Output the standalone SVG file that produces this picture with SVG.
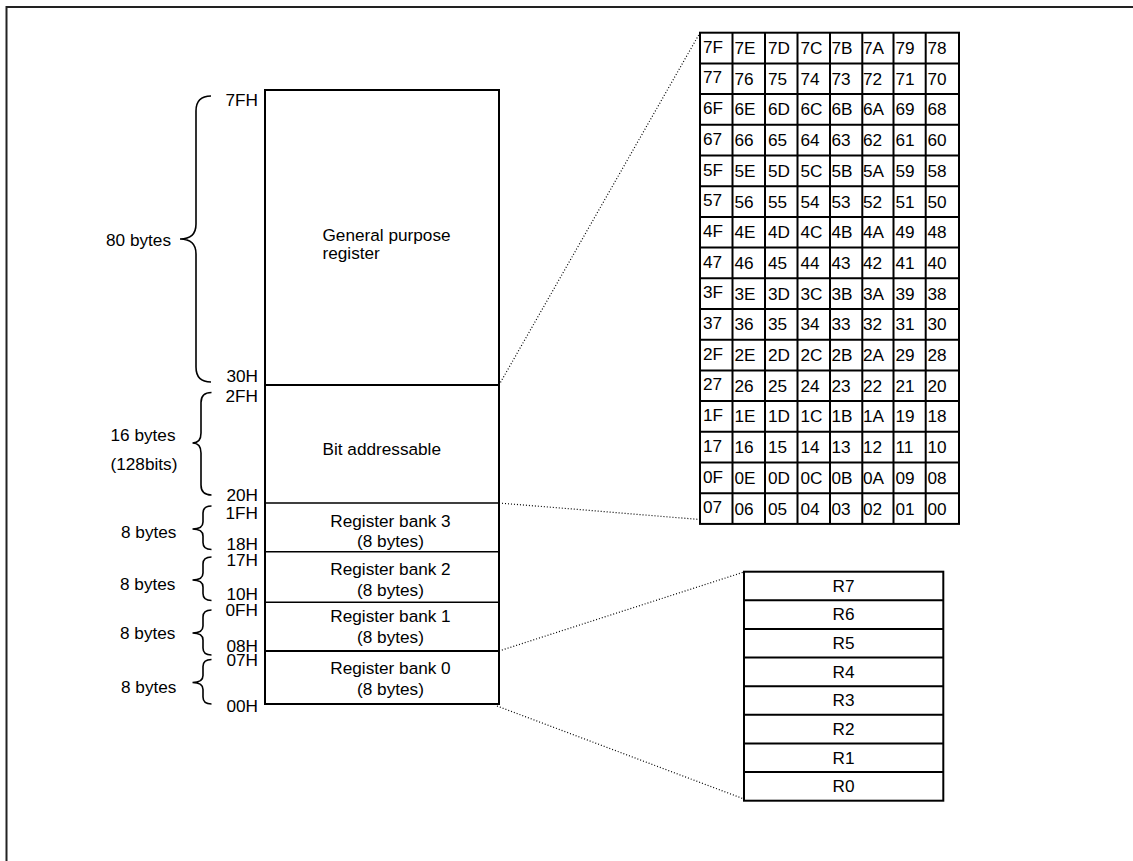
<svg xmlns="http://www.w3.org/2000/svg" width="1133" height="861" viewBox="0 0 1133 861">
<style>
.t{font-family:"Liberation Sans",Arial,sans-serif;font-size:17.2px;fill:#000}
.m{text-anchor:middle}
.e{text-anchor:end}
.box{fill:#fff;stroke:#000;stroke-width:2}
.ln{fill:none;stroke:#000;stroke-width:1.6}
.gl{fill:none;stroke:#000;stroke-width:2}
.br{fill:none;stroke:#000;stroke-width:1.6}
.dot{fill:none;stroke:#000;stroke-width:1.2;stroke-dasharray:1 2}
</style>
<rect width="1133" height="861" fill="#fff"/>
<path id="frame" d="M6.5 861V7H1133" fill="none" stroke="#222" stroke-width="2"/>

<g id="connectors">
<path class="dot" d="M499 385L700 32.7"/>
<path class="dot" d="M499 503L700 519.5"/>
<path class="dot" d="M499 651L744 572"/>
<path class="dot" d="M497 706L744 799"/>
</g>

<g id="memory-map">
<rect class="box" x="265" y="90" width="234" height="614"/>
<path class="gl" d="M265 385H499M265 651H499"/>
<path class="ln" d="M265 503H499M265 551.7H499M265 602.3H499"/>
</g>

<g id="general-purpose">
<path class="br" d="M211 96Q196 96 196 111L196 224Q196 239 180 239Q196 239 196 254L196 367Q196 382 211 382"/>
<text class="t" x="106" y="246">80 bytes</text>
<text class="t e" x="258" y="106">7FH</text>
<text class="t e" x="258" y="382">30H</text>
<text class="t" x="322.5" y="241">General purpose</text>
<text class="t" x="322.5" y="259">register</text>
</g>

<g id="bit-addressable">
<path class="br" d="M211.5 392.5Q201 392.5 201 402.5L201 433Q201 443 192.5 443Q201 443 201 453L201 485Q201 495 211.5 495"/>
<text class="t" x="110.5" y="440.5">16 bytes</text>
<text class="t" x="110.5" y="470">(128bits)</text>
<text class="t e" x="258" y="402">2FH</text>
<text class="t e" x="258" y="500.5">20H</text>
<text class="t" x="322.5" y="455">Bit addressable</text>
</g>

<g id="register-bank-3">
<path class="br" d="M211.5 506Q203 506 203 513L203 522Q203 529 192.5 529Q203 529 203 536L203 542.5Q203 549.5 211.5 549.5"/>
<text class="t" x="121" y="538">8 bytes</text>
<text class="t e" x="258" y="519">1FH</text>
<text class="t e" x="258" y="550">18H</text>
<text class="t m" x="390.5" y="526.7">Register bank 3</text>
<text class="t m" x="390.5" y="546.5">(8 bytes)</text>
</g>

<g id="register-bank-2">
<path class="br" d="M211.5 557Q203 557 203 564L203 573Q203 580 192.5 580Q203 580 203 587L203 593.5Q203 600.5 211.5 600.5"/>
<text class="t" x="120" y="590">8 bytes</text>
<text class="t e" x="258" y="565.5">17H</text>
<text class="t e" x="258" y="600">10H</text>
<text class="t m" x="390.5" y="575">Register bank 2</text>
<text class="t m" x="390.5" y="596">(8 bytes)</text>
</g>

<g id="register-bank-1">
<path class="br" d="M211.5 610Q203 610 203 617L203 626Q203 633 192.5 633Q203 633 203 640L203 648Q203 655 211.5 655"/>
<text class="t" x="120" y="639.3">8 bytes</text>
<text class="t e" x="258" y="616">0FH</text>
<text class="t e" x="258" y="651.5">08H</text>
<text class="t m" x="390.5" y="622.3">Register bank 1</text>
<text class="t m" x="390.5" y="643.3">(8 bytes)</text>
</g>

<g id="register-bank-0">
<path class="br" d="M211.5 659.5Q203 659.5 203 666.5L203 675.5Q203 682.5 192.5 682.5Q203 682.5 203 689.5L203 697Q203 704 211.5 704"/>
<text class="t" x="121" y="693.3">8 bytes</text>
<text class="t e" x="258" y="665.5">07H</text>
<text class="t e" x="258" y="711.5">00H</text>
<text class="t m" x="390.5" y="674">Register bank 0</text>
<text class="t m" x="390.5" y="695">(8 bytes)</text>
</g>

<g id="bit-map">
<rect class="box" x="700" y="32.7" width="259" height="491.2"/>
<path class="gl" d="M732.5 32.7V523.9M765 32.7V523.9M797.5 32.7V523.9M830 32.7V523.9M862.3 32.7V523.9M893.5 32.7V523.9M925.7 32.7V523.9M700 63.4H959M700 94.1H959M700 124.8H959M700 155.5H959M700 186.2H959M700 216.9H959M700 247.6H959M700 278.3H959M700 309H959M700 339.7H959M700 370.4H959M700 401.1H959M700 431.8H959M700 462.5H959M700 493.2H959"/>
<g transform="translate(0,54)"><text class="t" x="703" y="-1.3">7F</text><text class="t" x="734.5">7E</text><text class="t" x="768">7D</text><text class="t" x="800.5">7C</text><text class="t" x="831.5">7B</text><text class="t" x="863">7A</text><text class="t" x="895.5">79</text><text class="t" x="927.5">78</text></g>
<g transform="translate(0,84.7)"><text class="t" x="703" y="-1.3">77</text><text class="t" x="734.5">76</text><text class="t" x="768">75</text><text class="t" x="800.5">74</text><text class="t" x="831.5">73</text><text class="t" x="863">72</text><text class="t" x="895.5">71</text><text class="t" x="927.5">70</text></g>
<g transform="translate(0,115.4)"><text class="t" x="703" y="-1.3">6F</text><text class="t" x="734.5">6E</text><text class="t" x="768">6D</text><text class="t" x="800.5">6C</text><text class="t" x="831.5">6B</text><text class="t" x="863">6A</text><text class="t" x="895.5">69</text><text class="t" x="927.5">68</text></g>
<g transform="translate(0,146.1)"><text class="t" x="703" y="-1.3">67</text><text class="t" x="734.5">66</text><text class="t" x="768">65</text><text class="t" x="800.5">64</text><text class="t" x="831.5">63</text><text class="t" x="863">62</text><text class="t" x="895.5">61</text><text class="t" x="927.5">60</text></g>
<g transform="translate(0,176.8)"><text class="t" x="703" y="-1.3">5F</text><text class="t" x="734.5">5E</text><text class="t" x="768">5D</text><text class="t" x="800.5">5C</text><text class="t" x="831.5">5B</text><text class="t" x="863">5A</text><text class="t" x="895.5">59</text><text class="t" x="927.5">58</text></g>
<g transform="translate(0,207.5)"><text class="t" x="703" y="-1.3">57</text><text class="t" x="734.5">56</text><text class="t" x="768">55</text><text class="t" x="800.5">54</text><text class="t" x="831.5">53</text><text class="t" x="863">52</text><text class="t" x="895.5">51</text><text class="t" x="927.5">50</text></g>
<g transform="translate(0,238.2)"><text class="t" x="703" y="-1.3">4F</text><text class="t" x="734.5">4E</text><text class="t" x="768">4D</text><text class="t" x="800.5">4C</text><text class="t" x="831.5">4B</text><text class="t" x="863">4A</text><text class="t" x="895.5">49</text><text class="t" x="927.5">48</text></g>
<g transform="translate(0,268.9)"><text class="t" x="703" y="-1.3">47</text><text class="t" x="734.5">46</text><text class="t" x="768">45</text><text class="t" x="800.5">44</text><text class="t" x="831.5">43</text><text class="t" x="863">42</text><text class="t" x="895.5">41</text><text class="t" x="927.5">40</text></g>
<g transform="translate(0,299.6)"><text class="t" x="703" y="-1.3">3F</text><text class="t" x="734.5">3E</text><text class="t" x="768">3D</text><text class="t" x="800.5">3C</text><text class="t" x="831.5">3B</text><text class="t" x="863">3A</text><text class="t" x="895.5">39</text><text class="t" x="927.5">38</text></g>
<g transform="translate(0,330.3)"><text class="t" x="703" y="-1.3">37</text><text class="t" x="734.5">36</text><text class="t" x="768">35</text><text class="t" x="800.5">34</text><text class="t" x="831.5">33</text><text class="t" x="863">32</text><text class="t" x="895.5">31</text><text class="t" x="927.5">30</text></g>
<g transform="translate(0,361)"><text class="t" x="703" y="-1.3">2F</text><text class="t" x="734.5">2E</text><text class="t" x="768">2D</text><text class="t" x="800.5">2C</text><text class="t" x="831.5">2B</text><text class="t" x="863">2A</text><text class="t" x="895.5">29</text><text class="t" x="927.5">28</text></g>
<g transform="translate(0,391.7)"><text class="t" x="703" y="-1.3">27</text><text class="t" x="734.5">26</text><text class="t" x="768">25</text><text class="t" x="800.5">24</text><text class="t" x="831.5">23</text><text class="t" x="863">22</text><text class="t" x="895.5">21</text><text class="t" x="927.5">20</text></g>
<g transform="translate(0,422.4)"><text class="t" x="703" y="-1.3">1F</text><text class="t" x="734.5">1E</text><text class="t" x="768">1D</text><text class="t" x="800.5">1C</text><text class="t" x="831.5">1B</text><text class="t" x="863">1A</text><text class="t" x="895.5">19</text><text class="t" x="927.5">18</text></g>
<g transform="translate(0,453.1)"><text class="t" x="703" y="-1.3">17</text><text class="t" x="734.5">16</text><text class="t" x="768">15</text><text class="t" x="800.5">14</text><text class="t" x="831.5">13</text><text class="t" x="863">12</text><text class="t" x="895.5">11</text><text class="t" x="927.5">10</text></g>
<g transform="translate(0,483.8)"><text class="t" x="703" y="-1.3">0F</text><text class="t" x="734.5">0E</text><text class="t" x="768">0D</text><text class="t" x="800.5">0C</text><text class="t" x="831.5">0B</text><text class="t" x="863">0A</text><text class="t" x="895.5">09</text><text class="t" x="927.5">08</text></g>
<g transform="translate(0,514.5)"><text class="t" x="703" y="-1.3">07</text><text class="t" x="734.5">06</text><text class="t" x="768">05</text><text class="t" x="800.5">04</text><text class="t" x="831.5">03</text><text class="t" x="863">02</text><text class="t" x="895.5">01</text><text class="t" x="927.5">00</text></g>
</g>

<g id="register-detail">
<rect class="box" x="744" y="571.7" width="199.3" height="229"/>
<path class="gl" d="M744 600.3H943.3M744 628.9H943.3M744 657.6H943.3M744 686.2H943.3M744 714.8H943.3M744 743.5H943.3M744 772.1H943.3"/>
<text class="t m" x="843.6" y="591.7">R7</text>
<text class="t m" x="843.6" y="620.3">R6</text>
<text class="t m" x="843.6" y="648.9">R5</text>
<text class="t m" x="843.6" y="677.6">R4</text>
<text class="t m" x="843.6" y="706.2">R3</text>
<text class="t m" x="843.6" y="734.8">R2</text>
<text class="t m" x="843.6" y="763.5">R1</text>
<text class="t m" x="843.6" y="792.1">R0</text>
</g>
</svg>
